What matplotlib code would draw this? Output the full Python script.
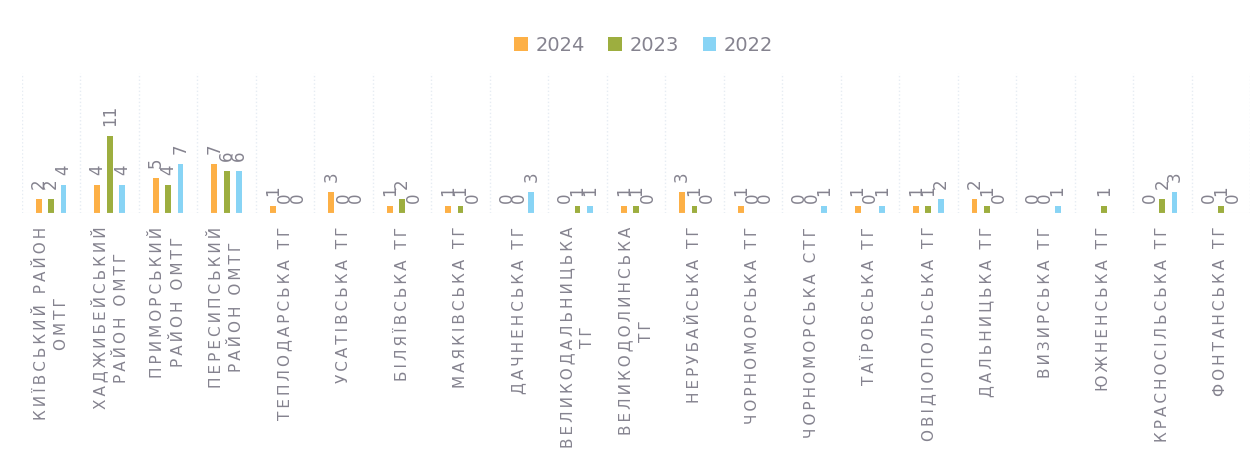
import numpy as np
import matplotlib.pyplot as plt

# communities (tick labels, already wrapped like the original)
categories = [
    "КИЇВСЬКИЙ РАЙОН\nОМТГ",
    "ХАДЖИБЕЙСЬКИЙ\nРАЙОН ОМТГ",
    "ПРИМОРСЬКИЙ\nРАЙОН ОМТГ",
    "ПЕРЕСИПСЬКИЙ\nРАЙОН ОМТГ",
    "ТЕПЛОДАРСЬКА ТГ",
    "УСАТІВСЬКА ТГ",
    "БІЛЯЇВСЬКА ТГ",
    "МАЯКІВСЬКА ТГ",
    "ДАЧНЕНСЬКА ТГ",
    "ВЕЛИКОДАЛЬНИЦЬКА\nТГ",
    "ВЕЛИКОДОЛИНСЬКА\nТГ",
    "НЕРУБАЙСЬКА ТГ",
    "ЧОРНОМОРСЬКА ТГ",
    "ЧОРНОМОРСЬКА СТГ",
    "ТАЇРОВСЬКА ТГ",
    "ОВІДІОПОЛЬСЬКА ТГ",
    "ДАЛЬНИЦЬКА ТГ",
    "ВИЗИРСЬКА ТГ",
    "ЮЖНЕНСЬКА ТГ",
    "КРАСНОСІЛЬСЬКА ТГ",
    "ФОНТАНСЬКА ТГ",
]

years = ["2024", "2023", "2022"]
vals_2024 = [2, 4, 5, 7, 1, 3, 1, 1, 0, 0, 1, 3, 1, 0, 1, 1, 2, 0, np.nan, 0, 0]
vals_2023 = [2, 11, 4, 6, 0, 0, 2, 1, 0, 1, 1, 1, 0, 0, 0, 1, 1, 0, 1, 2, 1]
vals_2022 = [4, 4, 7, 6, 0, 0, 0, 0, 3, 1, 0, 0, 0, 1, 1, 2, 0, 1, np.nan, 3, 0]

colors = ["#FDB046", "#9DAE3F", "#88D4F5"]
text_col = "#85838f"


def spaced(s):
    # imitate the wide letter spacing of the original labels
    thin = "\u2009"
    lines = []
    for line in s.split("\n"):
        words = [thin.join(w) for w in line.split(" ")]
        lines.append((thin + " " + thin).join(words))
    return "\n".join(lines)


plt.rcParams["font.family"] = ["DejaVu Sans"]

fig = plt.figure(figsize=(12.55, 4.74), dpi=100)
ax = fig.add_axes([0.0175, 0.551, 0.9785, 0.295])

x = np.arange(len(categories))
step = 0.21
width = 0.1
series = [vals_2024, vals_2023, vals_2022]

for i, (vals, col, yr) in enumerate(zip(series, colors, years)):
    v = np.array(vals, dtype=float)
    xs = x + (i - 1) * step
    ax.bar(xs, np.nan_to_num(v), width=width, color=col, label=yr)
    for xx, vv in zip(xs, v):
        if np.isnan(vv):
            continue
        ax.annotate(str(int(vv)), (xx, vv), xytext=(0, 7), textcoords="offset points",
                    rotation=90, ha="center", va="bottom", fontsize=12, color=text_col)

ax.set_xlim(-0.5, len(categories) - 0.5)
ax.set_ylim(0, 20)
ax.set_yticks([])
ax.set_xticks(x)
ax.set_xticklabels([spaced(c) for c in categories], rotation=90, fontsize=11,
                   color=text_col, multialignment="center", linespacing=1.45)
ax.tick_params(axis="x", length=0, pad=10)

# faint dotted separators between the communities
ax.set_xticks(np.arange(-0.5, len(categories), 1), minor=True)
ax.tick_params(axis="x", which="minor", length=0)
ax.grid(axis="x", which="minor", color="#e6ecf3", linestyle=":", linewidth=1)
ax.grid(axis="x", which="major", visible=False)
for s in ax.spines.values():
    s.set_visible(False)
ax.axhline(0, color="#eef1f5", linewidth=0.8)

fig.legend(loc="center", bbox_to_anchor=(0.513, 0.905), ncol=3, frameon=False,
           fontsize=14, labelcolor=text_col, handlelength=0.7, handleheight=0.7,
           columnspacing=1.2, handletextpad=0.4)

fig.savefig("out.png", dpi=100)
